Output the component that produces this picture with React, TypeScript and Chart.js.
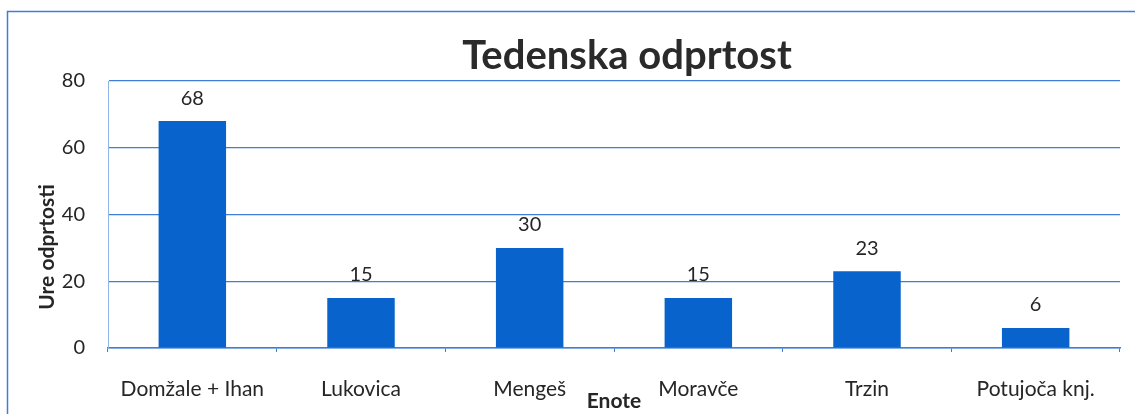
import React, { useEffect, useRef } from "react";
import { Chart, registerables } from "chart.js";

Chart.register(...registerables);

const categories = ["Domžale + Ihan", "Lukovica", "Mengeš", "Moravče", "Trzin", "Potujoča knj."];
const hours = [68, 15, 30, 15, 23, 6];
const yTicks = [0, 20, 40, 60, 80];
const titleText = "Tedenska odprtost";
const yTitle = "Ure odprtosti";
const xTitle = "Enote";

const FONT = "Lato, 'Open Sans', sans-serif";
const TEXT = "#262626";
const BLUE = "#0864cc";
const GRID = "#3d7fd8";

const framePlugin = {
  id: "frame",
  beforeDraw(chart: any) {
    const ctx = chart.ctx;
    ctx.save();
    ctx.fillStyle = "#ffffff";
    ctx.fillRect(0, 0, chart.width, chart.height);
    ctx.strokeStyle = GRID;
    ctx.lineWidth = 1.5;
    ctx.beginPath();
    ctx.moveTo(7.5, chart.height);
    ctx.lineTo(7.5, 11.5);
    ctx.lineTo(chart.width, 11.5);
    ctx.stroke();
    ctx.restore();
  },
};

// centre the title over the plot (shifted right like the original)
const titleShiftPlugin = {
  id: "titleShift",
  afterLayout(chart: any) {
    const tb = chart.titleBlock;
    if (tb) tb.left = 134;
  },
};

const yTitlePlugin = {
  id: "yTitle",
  afterDraw(chart: any) {
    const ctx = chart.ctx;
    ctx.save();
    ctx.translate(47, 247);
    ctx.rotate(-Math.PI / 2);
    ctx.font = `bold 21px ${FONT}`;
    ctx.fillStyle = TEXT;
    ctx.textAlign = "center";
    ctx.textBaseline = "middle";
    ctx.fillText(yTitle, 0, 0);
    ctx.restore();
  },
};

const labelPlugin = {
  id: "valueLabels",
  afterDatasetsDraw(chart: any) {
    const ctx = chart.ctx;
    const meta = chart.getDatasetMeta(0);
    ctx.save();
    ctx.font = `20px ${FONT}`;
    ctx.fillStyle = TEXT;
    ctx.textAlign = "center";
    ctx.textBaseline = "middle";
    meta.data.forEach((bar: any, i: number) => {
      ctx.fillText(String(hours[i]), bar.x, bar.y - 23);
    });
    ctx.restore();
  },
};

export default function App() {
  const ref = useRef<HTMLCanvasElement>(null);
  useEffect(() => {
    document.body.style.margin = "0";
    const chart = new Chart(ref.current!, {
      type: "bar",
      data: {
        labels: categories,
        datasets: [
          {
            data: hours,
            backgroundColor: BLUE,
            borderWidth: 0,
            barPercentage: 0.4,
            categoryPercentage: 1,
          },
        ],
      },
      options: {
        animation: false,
        responsive: false,
        devicePixelRatio: 1,
        layout: { padding: { left: 0, right: 15, top: 0, bottom: 0 } },
        plugins: {
          legend: { display: false },
          tooltip: { enabled: false },
          title: {
            display: true,
            text: titleText,
            color: "#2a2a2a",
            font: { family: FONT, size: 40, weight: "bold", lineHeight: 1.2 },
            padding: { top: 32, bottom: 1 },
          },
        },
        scales: {
          x: {
            grid: {
              offset: true,
              drawOnChartArea: false,
              drawTicks: true,
              tickLength: 4,
              color: GRID,
            },
            border: { color: GRID, width: 1.5 },
            ticks: {
              color: TEXT,
              font: { family: FONT, size: 21 },
              padding: 25,
              maxRotation: 0,
              autoSkip: false,
            },
            title: {
              display: true,
              text: xTitle,
              color: TEXT,
              font: { family: FONT, size: 21, weight: "bold", lineHeight: 1.2 },
              padding: { top: 0, bottom: 0 },
            },
            afterFit(scale: any) {
              scale.height = 66;
            },
          },
          y: {
            min: 0,
            max: 80,
            afterBuildTicks(scale: any) {
              scale.ticks = yTicks.map((v) => ({ value: v }));
            },
            grid: { color: GRID, lineWidth: 1.2, drawTicks: false },
            border: { display: true, color: "#8fb5ea", width: 1 },
            ticks: {
              color: TEXT,
              font: { family: FONT, size: 20 },
              padding: 23,
            },
            afterFit(scale: any) {
              scale.width = 108;
            },
          },
        },
      },
      plugins: [framePlugin, titleShiftPlugin, yTitlePlugin, labelPlugin],
    });
    return () => chart.destroy();
  }, []);
  return <canvas ref={ref} width={1135} height={414} />;
}
